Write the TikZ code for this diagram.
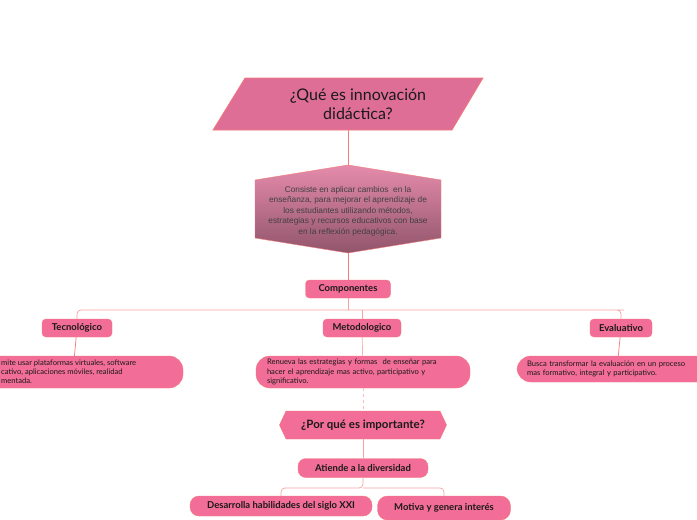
\documentclass[tikz,border=0pt]{standalone}
\usepackage{fontspec}
\setmainfont{Lato}
\newfontfamily\arialf{Liberation Sans}
\usetikzlibrary{shapes.geometric,shapes.symbols}
\definecolor{pk}{HTML}{F26D98}
\definecolor{pkd}{HTML}{DE6E96}
\definecolor{ln}{HTML}{F47A7A}
\definecolor{txt}{HTML}{1A1A1A}
\tikzset{
 lab/.style={draw=ln,fill=pk,rounded corners=4pt,font=\bfseries\fontsize{9.5}{10}\selectfont,text=txt,inner sep=0pt,minimum height=18pt},
 pill/.style={draw=ln,fill=pk,rounded corners=14pt,font=\fontsize{7.6}{9.2}\selectfont,text=txt,align=left,inner sep=0pt,minimum height=32pt},
 con/.style={draw=ln,line width=0.7pt},
}
\begin{document}
\begin{tikzpicture}[x=1pt,y=-1pt]
\useasboundingbox (0,0) rectangle (697,520);
\fill[white] (0,0) rectangle (697,520);
% title
\draw[con,fill=pkd] (245,78) -- (483,78) -- (452,130) -- (213,130) -- cycle;
\node[font=\fontsize{16}{19}\selectfont,align=center,text=txt] (t) at (358,104) {¿Qué es innovación\\didáctica?};
\coordinate (tb) at (348,130);
% hexagon
\shade[top color=pkd!80!white,bottom color=pkd!60!black!90!white,draw=ln] (348,165) -- (441,180) -- (441,238) -- (348,253) -- (255,238) -- (255,180) -- cycle;
\node[font=\arialf\fontsize{8.3}{10.5}\selectfont,align=center,text=black!75] (h) at (348,211) {Consiste en aplicar cambios\ \ en la\\enseñanza, para mejorar el aprendizaje de\\los estudiantes utilizando métodos,\\estrategias y recursos educativos con base\\en la reflexión pedagógica.};
\coordinate (ht) at (348,165);
\coordinate (hb) at (348,253);
\draw[con] (tb) -- (ht);
\node[lab,minimum width=85pt] (c) at (348,289) {Componentes};
\draw[con] (hb) -- (c);
% level 2
\node[lab,minimum width=70pt] (tec) at (77,328) {Tecnológico};
\node[lab,minimum width=78pt] (met) at (362,328) {Metodologico};
\node[lab,minimum width=62pt] (eva) at (621,328) {Evaluativo};
\draw[con,draw=ln!70!white] (c.south) -- (348,310);
\draw[con,draw=ln!70!white,rounded corners=4pt] (tec.north) |- (620,310) -| (eva.north);
\draw[con,draw=ln!70!white] (362,310) -- (met.north);
% pills
\node[pill,minimum width=220pt] (p1) at (73,372) {};
\node[font=\fontsize{7.6}{9.2}\selectfont,text=txt,align=left,anchor=west,inner sep=0pt] (p1t) at (1,372) {mite usar plataformas virtuales, software\\cativo, aplicaciones móviles, realidad\\mentada.};
\node[pill,minimum width=214pt,text width=192pt] (p2) at (363,372) {Renueva las estrategias y formas\ \ de enseñar para\\hacer el aprendizaje mas activo, participativo y\\significativo.};
\node[pill,minimum width=200pt,text width=180pt,minimum height=26pt] (p3) at (617,369) {Busca transformar la evaluación en un proceso\\mas formativo, integral y participativo.};
\draw[con] (tec) -- (p1);
\draw[con,draw=ln!60!white] (met) -- (p2);
\draw[con] (eva) -- (p3);
% por que
\node[draw=ln,fill=pk,signal,signal to=east and west,signal pointer angle=130,minimum width=167pt,minimum height=28pt,inner sep=0pt,font=\bfseries\fontsize{11.5}{12}\selectfont,text=txt] (q) at (363,425) {¿Por qué es importante?};
\draw[con,draw=ln!50!white,dashed] (p2.south) -- (q.north);
\node[lab,minimum width=130pt,minimum height=19pt,rounded corners=8pt] (a) at (363,468) {Atiende a la diversidad};
\draw[con,draw=ln!70!white] (q.south) -- (a.north);
\node[lab,minimum width=182pt,minimum height=20pt,rounded corners=9pt] (d) at (281,506) {Desarrolla habilidades del siglo XXI};
\node[lab,minimum width=133pt,minimum height=24pt,rounded corners=10pt] (m) at (444,508) {Motiva y genera interés};
\draw[con,draw=ln!70!white,rounded corners=4pt] (a.south) -- (363,488) -| (d.north);
\draw[con,draw=ln!70!white,rounded corners=4pt] (363,488) -| (m.north);
\end{tikzpicture}
\end{document}
